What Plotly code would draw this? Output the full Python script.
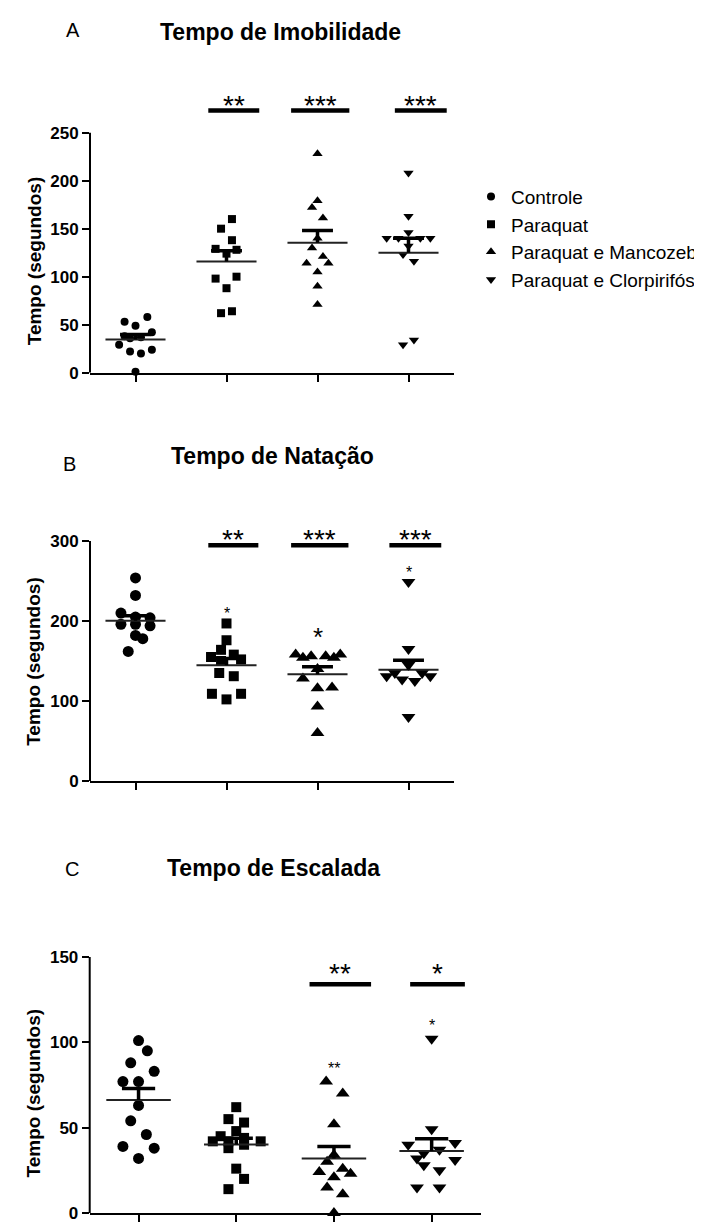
import plotly.graph_objects as go

FONT = "Arial, Liberation Sans, sans-serif"

groups = ["Controle", "Paraquat", "Paraquat e Mancozeb", "Paraquat e Clorpirifós"]
symbols = ["circle", "square", "triangle-up", "triangle-down"]

# ---------------- Panel A: Tempo de Imobilidade ----------------
a_controle = [53, 49, 58, 42, 37, 36, 38, 29, 22, 20, 24, 1]
a_controle_dx = [-0.12, 0, 0.13, 0.18, 0.06, -0.06, -0.12, -0.18, -0.06, 0.06, 0.18, 0]
a_paraquat = [160, 150, 138, 129, 128, 124, 98, 100, 88, 62, 64]
a_paraquat_dx = [0.06, -0.06, 0.06, -0.12, 0.11, 0, -0.12, 0.11, 0, -0.06, 0.06]
a_mancozeb = [228, 179, 172, 161, 140, 130, 121, 114, 114, 105, 90, 71]
a_mancozeb_dx = [0, 0, -0.06, 0.06, 0, -0.06, 0.06, -0.12, 0.12, 0, 0, 0]
a_clorpirifos = [208, 163, 146, 140, 140, 140, 140, 132, 123, 116, 34, 29]
a_clorpirifos_dx = [0, 0, 0, -0.24, -0.11, 0.13, 0.24, 0, -0.06, 0.06, 0.06, -0.06]
a_mean = [34.5, 115.9, 135.3, 125.0]
a_sem = [5.2, 11.1, 12.7, 15.0]
a_sig = ["", "**", "***", "***"]

# ---------------- Panel B: Tempo de Natação ----------------
b_controle = [254, 232, 210, 205, 204, 196, 196, 194, 182, 178, 162]
b_controle_dx = [0, 0, -0.16, 0, 0.16, -0.16, 0, 0.16, 0, 0.08, -0.08]
b_paraquat = [197, 176, 164, 158, 155, 152, 150, 135, 131, 109, 109, 102]
b_paraquat_dx = [0, 0, -0.06, 0.08, -0.17, 0.16, -0.06, -0.08, 0.08, -0.16, 0.16, 0]
b_mancozeb = [158, 154, 156, 156, 154, 158, 140, 128, 116, 117, 93, 60]
b_mancozeb_dx = [-0.24, -0.16, -0.07, 0.09, 0.18, 0.25, 0, -0.16, 0, 0.16, 0, 0]
b_clorpirifos = [249, 165, 145, 135, 135, 131, 127, 125, 131, 80]
b_clorpirifos_dx = [0, 0, 0, -0.15, 0.15, -0.24, -0.07, 0.07, 0.24, 0]
b_mean = [200.5, 144.7, 133.5, 139.0]
b_sem = [6.0, 8.5, 9.2, 11.9]
b_sig = ["", "**", "***", "***"]
b_note_group = [1, 2, 3]
b_note_value = [214, 187, 265]
b_note_text = ["*", "*", "*"]

# ---------------- Panel C: Tempo de Escalada ----------------
c_controle = [101, 95, 88, 83, 77, 77, 63, 54, 46, 39, 38, 32]
c_controle_dx = [0, 0.09, -0.08, 0.16, -0.16, 0, 0, -0.08, 0.08, -0.16, 0.16, 0]
c_paraquat = [62, 55, 53, 48, 45, 42, 42, 44, 42, 38, 40, 26, 20, 14]
c_paraquat_dx = [0, -0.08, 0.08, 0, -0.16, -0.24, 0.25, 0.08, -0.08, -0.08, 0.08, 0, 0.08, -0.08]
c_mancozeb = [77, 70, 52, 34, 30, 26, 24, 23, 21, 15, 11, 0]
c_mancozeb_dx = [-0.08, 0.09, 0, 0, -0.07, 0.09, -0.15, 0.17, 0, -0.07, 0.09, 0]
c_clorpirifos = [102, 49, 40, 41, 37, 35, 32, 31, 28, 25, 15, 15]
c_clorpirifos_dx = [0, 0, -0.24, 0.24, 0.08, -0.08, -0.15, 0.24, -0.08, 0.08, -0.15, 0.08]
c_mean = [66.2, 40.2, 31.9, 36.4]
c_sem = [6.8, 3.6, 7.1, 7.1]
c_sig = ["", "", "**", "*"]
c_note_group = [2, 3]
c_note_value = [87, 112]
c_note_text = ["**", "*"]

panels = [
    dict(vals=[a_controle, a_paraquat, a_mancozeb, a_clorpirifos],
         dx=[a_controle_dx, a_paraquat_dx, a_mancozeb_dx, a_clorpirifos_dx],
         mean=a_mean, sem=a_sem, sig=a_sig, sig_level=273, star_level=285,
         bars=[None, (0.80, 1.36), (1.71, 2.35), (2.85, 3.42)],
         ymax=250, ytop=300, ticks=[0, 50, 100, 150, 200, 250],
         msize=[8, 8, 9, 9], title="Tempo de Imobilidade", letter="A",
         title_px=24.5, letter_px=21.7, ytitle_val=116,
         title_cx=272, letter_cx=65,
         xdom=(82, 446), ydom=(367.7, 77.3), notes=None),
    dict(vals=[b_controle, b_paraquat, b_mancozeb, b_clorpirifos],
         dx=[b_controle_dx, b_paraquat_dx, b_mancozeb_dx, b_clorpirifos_dx],
         mean=b_mean, sem=b_sem, sig=b_sig, sig_level=294.7, star_level=310.5,
         bars=[None, (0.80, 1.35), (1.71, 2.34), (2.79, 3.36)],
         ymax=300, ytop=320, ticks=[0, 100, 200, 300],
         msize=[11, 10, 12, 12], title="Tempo de Natação", letter="B",
         title_px=451.7, letter_px=459.5, ytitle_val=149,
         title_cx=264, letter_cx=61,
         xdom=(82, 446), ydom=(779.3, 521.4),
         notes=(b_note_group, b_note_value, b_note_text, [16, 26, 16])),
    dict(vals=[c_controle, c_paraquat, c_mancozeb, c_clorpirifos],
         dx=[c_controle_dx, c_paraquat_dx, c_mancozeb_dx, c_clorpirifos_dx],
         mean=c_mean, sem=c_sem, sig=c_sig, sig_level=134, star_level=144.2,
         bars=[None, None, (1.75, 2.38), (2.78, 3.34)],
         ymax=150, ytop=155, ticks=[0, 50, 100, 150],
         msize=[11, 10, 12, 12], title="Tempo de Escalada", letter="C",
         title_px=867.5, letter_px=868, ytitle_val=70,
         title_cx=265, letter_cx=63.5,
         xdom=(81.7, 472.5), ydom=(1215, 948.1),
         notes=(c_note_group, c_note_value, c_note_text, [16, 16])),
]

W, H = 702, 1222
fig = go.Figure()
shapes = []
annotations = []

for p_i, P in enumerate(panels):
    sfx = "" if p_i == 0 else str(p_i + 1)
    xa, ya = "x" + sfx, "y" + sfx
    for g in range(4):
        xs = [g + d for d in P["dx"][g]]
        fig.add_trace(go.Scatter(
            x=xs, y=P["vals"][g], mode="markers", xaxis=xa, yaxis=ya,
            name=groups[g], showlegend=(p_i == 0), cliponaxis=False,
            marker=dict(symbol=symbols[g], size=P["msize"][g], color="black",
                        line=dict(width=0))))
        m, s = P["mean"][g], P["sem"][g]
        # mean line
        fig.add_trace(go.Scatter(x=[g - 0.33, g + 0.33], y=[m, m], mode="lines",
                                 xaxis=xa, yaxis=ya, showlegend=False, cliponaxis=False,
                                 line=dict(color="#222", width=2), hoverinfo="skip"))
        # SEM (upper)
        fig.add_trace(go.Scatter(x=[g, g, None, g - 0.17, g + 0.17], y=[m, m + s, None, m + s, m + s],
                                 mode="lines", xaxis=xa, yaxis=ya, showlegend=False,
                                 cliponaxis=False, line=dict(color="black", width=3.5),
                                 hoverinfo="skip"))
        # significance bar + stars
        if P["bars"][g] is not None and P["sig"][g]:
            x0, x1 = P["bars"][g]
            shapes.append(dict(type="line", xref=xa, yref=ya, x0=x0, x1=x1,
                               y0=P["sig_level"], y1=P["sig_level"],
                               line=dict(color="black", width=4.5)))
            annotations.append(dict(xref=xa, yref=ya, x=(x0 + x1) / 2, y=P["star_level"],
                                    text=P["sig"][g], showarrow=False, yshift=-6.5,
                                    font=dict(family=FONT, size=28, color="black")))
    if P["notes"]:
        ng, nv, nt, nsz = P["notes"]
        for gg, vv, tt, ss in zip(ng, nv, nt, nsz):
            annotations.append(dict(xref=xa, yref=ya, x=gg, y=vv, text=tt, showarrow=False,
                                    yshift=-0.23 * ss,
                                    font=dict(family=FONT, size=ss, color="black")))
    # y axis line (only up to the last tick)
    shapes.append(dict(type="line", xref=xa + " domain", yref=ya, x0=0, x1=0,
                       y0=0, y1=P["ymax"], line=dict(color="black", width=2)))
    xd = (P["xdom"][0] / W, P["xdom"][1] / W)
    yd = (1 - P["ydom"][0] / H, 1 - P["ydom"][1] / H)
    fig.update_layout(**{
        "xaxis" + sfx: dict(domain=list(xd), range=[-0.5, 3.5], anchor=ya,
                            showline=True, linecolor="black", linewidth=2,
                            ticks="outside", ticklen=7, tickwidth=2, tickcolor="black",
                            tickvals=[0, 1, 2, 3], ticktext=["", "", "", ""],
                            showgrid=False, zeroline=False, fixedrange=True),
        "yaxis" + sfx: dict(domain=list(yd), range=[0, P["ytop"]], anchor=xa,
                            showline=False, ticks="outside", ticklen=7, tickwidth=2,
                            tickcolor="black", tickvals=P["ticks"],
                            tickfont=dict(family=FONT, size=17, color="black", weight="bold"),
                            showgrid=False, zeroline=False, fixedrange=True),
    })
    annotations.append(dict(xref="paper", yref="paper", x=P["title_cx"] / W, y=1 - P["title_px"] / H,
                            xanchor="center", yanchor="middle", showarrow=False,
                            text="<b>" + P["title"] + "</b>",
                            font=dict(family=FONT, size=23, color="black")))
    annotations.append(dict(xref="paper", yref="paper", x=P["letter_cx"] / W, y=1 - P["letter_px"] / H,
                            xanchor="center", yanchor="middle", showarrow=False,
                            text=P["letter"],
                            font=dict(family=FONT, size=20, color="black")))
    annotations.append(dict(xref="paper", yref=ya, x=26 / W, y=P["ytitle_val"],
                            xanchor="center", yanchor="middle", showarrow=False,
                            text="<b>Tempo (segundos)</b>", textangle=-90,
                            font=dict(family=FONT, size=19, color="black")))

fig.update_layout(
    width=W, height=H, margin=dict(l=0, r=0, t=0, b=0),
    paper_bgcolor="white", plot_bgcolor="white",
    font=dict(family=FONT, color="black"),
    shapes=shapes, annotations=annotations,
    showlegend=True,
    legend=dict(x=463 / W, y=1 - 171 / H, xanchor="left", yanchor="top",
                font=dict(family=FONT, size=19, color="black"),
                bgcolor="rgba(0,0,0,0)", itemwidth=30),
)

fig.write_html("out.html")
